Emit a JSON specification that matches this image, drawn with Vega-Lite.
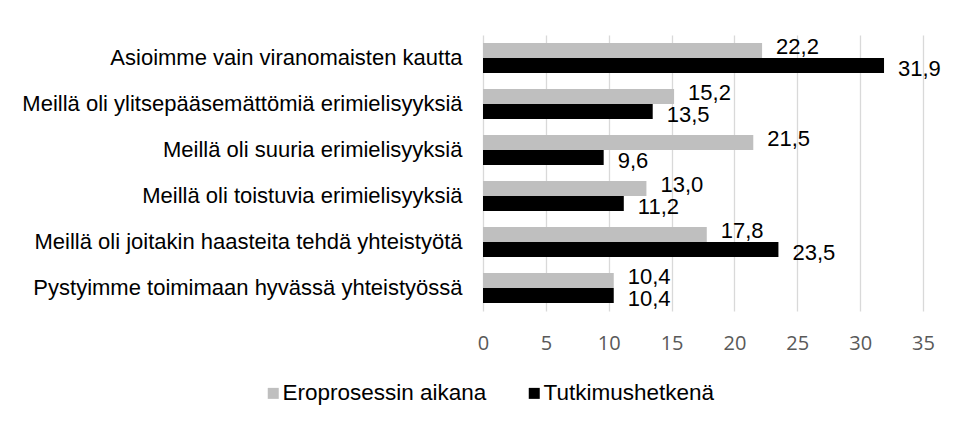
{
  "$schema": "https://vega.github.io/schema/vega-lite/v6.json",
  "width": 440,
  "height": 276,
  "autosize": {"type": "none"},
  "padding": {"left": 483, "top": 35, "right": 33, "bottom": 114},
  "background": "#ffffff",
  "config": {
    "locale": {"number": {"decimal": ",", "thousands": " ", "grouping": [3], "currency": ["", " €"]}},
    "view": {"stroke": null},
    "font": "Liberation Sans"
  },
  "data": {
    "values": [
      {"category": "Asioimme vain viranomaisten kautta", "series": "Eroprosessin aikana", "value": 22.2},
      {"category": "Asioimme vain viranomaisten kautta", "series": "Tutkimushetkenä", "value": 31.9},
      {"category": "Meillä oli ylitsepääsemättömiä erimielisyyksiä", "series": "Eroprosessin aikana", "value": 15.2},
      {"category": "Meillä oli ylitsepääsemättömiä erimielisyyksiä", "series": "Tutkimushetkenä", "value": 13.5},
      {"category": "Meillä oli suuria erimielisyyksiä", "series": "Eroprosessin aikana", "value": 21.5},
      {"category": "Meillä oli suuria erimielisyyksiä", "series": "Tutkimushetkenä", "value": 9.6},
      {"category": "Meillä oli toistuvia erimielisyyksiä", "series": "Eroprosessin aikana", "value": 13.0},
      {"category": "Meillä oli toistuvia erimielisyyksiä", "series": "Tutkimushetkenä", "value": 11.2},
      {"category": "Meillä oli joitakin haasteita tehdä yhteistyötä", "series": "Eroprosessin aikana", "value": 17.8},
      {"category": "Meillä oli joitakin haasteita tehdä yhteistyötä", "series": "Tutkimushetkenä", "value": 23.5},
      {"category": "Pystyimme toimimaan hyvässä yhteistyössä", "series": "Eroprosessin aikana", "value": 10.4},
      {"category": "Pystyimme toimimaan hyvässä yhteistyössä", "series": "Tutkimushetkenä", "value": 10.4}
    ]
  },
  "encoding": {
    "y": {
      "field": "category",
      "type": "nominal",
      "sort": null,
      "scale": {"paddingInner": 0.35, "paddingOuter": 0.175},
      "axis": {
        "title": null,
        "ticks": false,
        "domain": false,
        "grid": false,
        "labelFont": "Liberation Sans",
        "labelFontSize": 22,
        "labelColor": "#000000",
        "labelPadding": 21,
        "labelLimit": 600
      }
    },
    "yOffset": {
      "field": "series",
      "type": "nominal",
      "sort": ["Eroprosessin aikana", "Tutkimushetkenä"],
      "scale": {"paddingInner": 0, "paddingOuter": 0}
    },
    "x": {
      "field": "value",
      "type": "quantitative",
      "scale": {"domain": [0, 35], "nice": false},
      "axis": {
        "title": null,
        "values": [0, 5, 10, 15, 20, 25, 30, 35],
        "ticks": false,
        "domain": false,
        "grid": true,
        "gridColor": "#d9d9d9",
        "gridWidth": 1.3,
        "labelFont": "Open Sans",
        "labelFontSize": 20,
        "labelColor": "#595959",
        "labelPadding": 22,
        "labelFlush": false,
        "format": "d"
      }
    }
  },
  "layer": [
    {
      "mark": {"type": "bar"},
      "encoding": {
        "color": {
          "field": "series",
          "type": "nominal",
          "sort": ["Eroprosessin aikana", "Tutkimushetkenä"],
          "scale": {"domain": ["Eroprosessin aikana", "Tutkimushetkenä"], "range": ["#bfbfbf", "#000000"]},
          "legend": {
            "title": null,
            "orient": "none",
            "direction": "horizontal",
            "legendX": -221,
            "legendY": 347,
            "padding": 0,
            "symbolType": "square",
            "symbolSize": 121,
            "symbolStrokeWidth": 0,
            "labelFont": "Liberation Sans",
            "labelFontSize": 22.5,
            "labelColor": "#000000",
            "labelOffset": -2,
            "columnPadding": 36,
            "labelLimit": 400
          }
        }
      }
    },
    {
      "transform": [{"filter": "datum.series === 'Eroprosessin aikana'"}],
      "mark": {"type": "text", "align": "left", "baseline": "middle", "dx": 14, "dy": -4, "fontSize": 22, "font": "Liberation Sans", "color": "#000000"},
      "encoding": {"text": {"field": "value", "type": "quantitative", "format": ".1f"}}
    },
    {
      "transform": [{"filter": "datum.series === 'Tutkimushetkenä'"}],
      "mark": {"type": "text", "align": "left", "baseline": "middle", "dx": 14, "dy": 4, "fontSize": 22, "font": "Liberation Sans", "color": "#000000"},
      "encoding": {"text": {"field": "value", "type": "quantitative", "format": ".1f"}}
    }
  ]
}
